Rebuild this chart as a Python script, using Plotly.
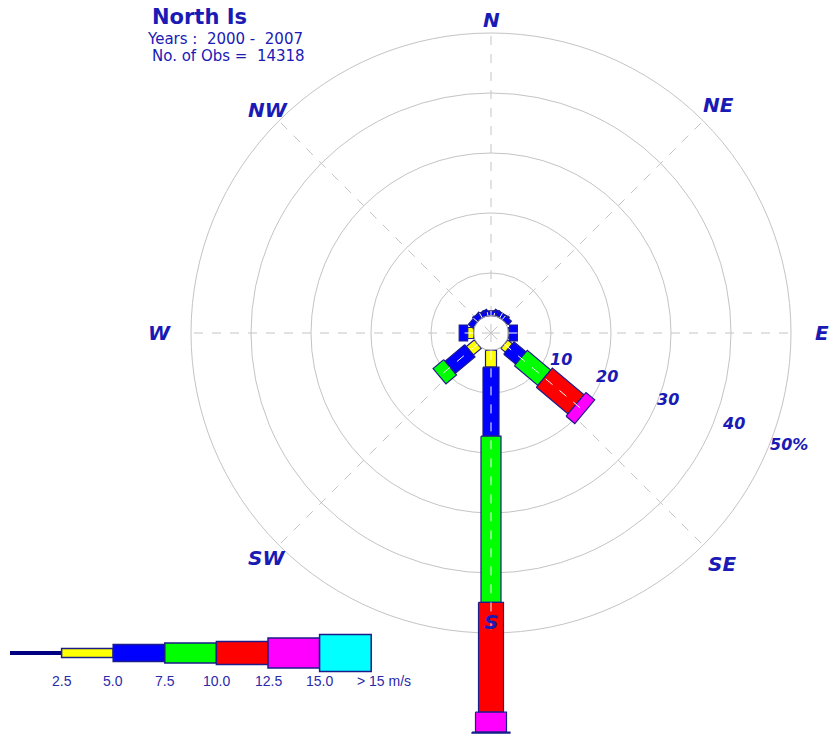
import numpy as np
import plotly.graph_objects as go

# ---- wind rose data: North Is, 2000-2007 ----
dir_deg = [0, 10, 30, 40, 90, 130, 180, 230, 270, 310, 330, 350]   # bearing the wind blows from
f_calm_25 = [0.0, 0.0, 0.0, 0.0, 0.0, 0.0, 0.0, 0.0, 0.0, 0.0, 0.0, 0.0]
f_25_50 = [0.2, 0.0, 0.2, 0.0, 0.2, 1.0, 2.8, 1.7, 1.0, 0.0, 0.0, 0.0]
f_50_75 = [0.6, 0.5, 0.7, 0.8, 1.3, 2.6, 11.5, 4.3, 1.4, 0.9, 0.9, 0.6]
f_75_100 = [0.0, 0.0, 0.0, 0.0, 0.0, 5.1, 27.7, 2.3, 0.0, 0.0, 0.0, 0.0]
f_100_125 = [0.0, 0.0, 0.0, 0.0, 0.0, 6.9, 18.3, 0.0, 0.0, 0.0, 0.0, 0.0]
f_125_150 = [0.0, 0.0, 0.0, 0.0, 0.0, 1.9, 3.3, 0.0, 0.0, 0.0, 0.0, 0.0]
f_gt_150 = [0.0, 0.0, 0.0, 0.0, 0.0, 0.0, 0.2, 0.0, 0.0, 0.0, 0.0, 0.0]

class_colors = ["#000080", "#ffff00", "#0000ff", "#00ff00", "#ff0000", "#ff00ff", "#00ffff"]
class_width_px = [3, 11, 16, 20, 25, 31, 38]
legend_ticks = ["2.5", "5.0", "7.5", "10.0", "12.5", "15.0", "> 15 m/s"]

ring_values = [10, 20, 30, 40, 50]
ring_labels = ["10", "20", "30", "40", "50%"]
compass = ["N", "NE", "E", "SE", "S", "SW", "W", "NW"]

title = "North Is"
years_text = "Years :&nbsp; 2000 -&nbsp; 2007"
obs_text = "No. of Obs =&nbsp; 14318"

# ---- geometry: 6 px per percent, rose centre at pixel (491, 333) ----
W, H = 832, 740
PX = 6.0
CX, CY = 491, 333
xr = [-CX / PX, (W - CX) / PX]
yr = [-(H - CY) / PX, CY / PX]
r_calm = 2.9
navy = "#1c1c8a"
txt_blue = "#1a1ab4"
grid = "#c4c4c4"


def unit(b):
    a = np.deg2rad(b)
    return np.sin(a), np.cos(a)


fig = go.Figure()
shapes = []
annotations = []

# rings
for r in ring_values:
    shapes.append(dict(type="circle", xref="x", yref="y", x0=-r, y0=-r, x1=r, y1=r,
                       line=dict(color=grid, width=1), layer="below"))
# dashed compass spokes
for k in range(8):
    ux, uy = unit(45 * k)
    rmax = 50.5
    shapes.append(dict(type="line", xref="x", yref="y", x0=0, y0=0, x1=ux * rmax, y1=uy * rmax,
                       line=dict(color=grid, width=1, dash="dash"), layer="below"))

# bars
classes = [f_calm_25, f_25_50, f_50_75, f_75_100, f_100_125, f_125_150, f_gt_150]
bar_ends = []
for i, b in enumerate(dir_deg):
    ux, uy = unit(b)
    vx, vy = np.cos(np.deg2rad(b)), -np.sin(np.deg2rad(b))
    r0 = r_calm
    for c, vals in enumerate(classes):
        v = vals[i]
        if v <= 0:
            continue
        r1 = r0 + v
        hw = class_width_px[c] / PX / 2
        xs = [r0 * ux + hw * vx, r1 * ux + hw * vx, r1 * ux - hw * vx, r0 * ux - hw * vx, r0 * ux + hw * vx]
        ys = [r0 * uy + hw * vy, r1 * uy + hw * vy, r1 * uy - hw * vy, r0 * uy - hw * vy, r0 * uy + hw * vy]
        fig.add_trace(go.Scatter(x=xs, y=ys, mode="lines", fill="toself",
                                 fillcolor=class_colors[c], line=dict(color=navy, width=1.2),
                                 hoverinfo="skip", showlegend=False))
        r0 = r1
    bar_ends.append((b, r0))

# white dashed centre lines through the bars
for b, rend in bar_ends:
    if rend - r_calm < 0.5:
        continue
    ux, uy = unit(b)
    re = min(rend, 50)
    fig.add_trace(go.Scatter(x=[r_calm * ux, re * ux], y=[r_calm * uy, re * uy], mode="lines",
                             line=dict(color="white", width=1, dash="dash"),
                             hoverinfo="skip", showlegend=False))

# calm circle
shapes.append(dict(type="circle", xref="x", yref="y", x0=-r_calm, y0=-r_calm, x1=r_calm, y1=r_calm,
                   line=dict(color="#a0a0a0", width=1), layer="above"))

# compass labels
compass_r = [52.2, 53.7, 55.2, 54.4, 48.2, 53.0, 55.2, 52.5]
for k, (lab, rr) in enumerate(zip(compass, compass_r)):
    ux, uy = unit(45 * k)
    annotations.append(dict(x=ux * rr, y=uy * rr, xref="x", yref="y", text="<b><i>" + lab + "</i></b>",
                            showarrow=False, font=dict(family="DejaVu Sans", size=20, color=txt_blue)))

# ring labels
ring_label_r = [12.5, 20.7, 31.5, 43.1, 53.0]
for lab, rr in zip(ring_labels, ring_label_r):
    ux, uy = unit(110.5)
    annotations.append(dict(x=ux * rr, y=uy * rr, xref="x", yref="y", text="<b><i>" + lab + "</i></b>",
                            showarrow=False, font=dict(family="DejaVu Sans", size=16, color=txt_blue)))

# header text
annotations.append(dict(x=150 / W, y=1 - 17 / H, xref="paper", yref="paper", xanchor="left", yanchor="middle",
                        text="<b>" + title + "</b>", showarrow=False,
                        font=dict(family="DejaVu Sans", size=21, color=txt_blue)))
annotations.append(dict(x=145 / W, y=1 - 39 / H, xref="paper", yref="paper", xanchor="left", yanchor="middle",
                        text=years_text, showarrow=False,
                        font=dict(family="DejaVu Sans", size=15, color=txt_blue)))
annotations.append(dict(x=150 / W, y=1 - 56 / H, xref="paper", yref="paper", xanchor="left", yanchor="middle",
                        text=obs_text, showarrow=False,
                        font=dict(family="DejaVu Sans", size=15, color=txt_blue)))

# speed legend
lx0, lstep, lyc = 10, 51.6, 653
for c in range(7):
    x0 = lx0 + c * lstep
    x1 = x0 + lstep
    h = [4, 9, 17, 20, 23, 30, 37][c]
    if c == 0:
        shapes.append(dict(type="rect", xref="paper", yref="paper", x0=x0 / W, x1=x1 / W,
                           y0=1 - (lyc + h / 2) / H, y1=1 - (lyc - h / 2) / H,
                           fillcolor=class_colors[c], line=dict(width=0)))
    else:
        shapes.append(dict(type="rect", xref="paper", yref="paper", x0=x0 / W, x1=x1 / W,
                           y0=1 - (lyc + h / 2) / H, y1=1 - (lyc - h / 2) / H,
                           fillcolor=class_colors[c], line=dict(color=navy, width=1.5)))
for c, lab in enumerate(legend_ticks):
    xb = lx0 + (c + 1) * lstep
    anchor = "center" if c < 6 else "left"
    xpos = xb if c < 6 else xb - 16
    annotations.append(dict(x=xpos / W, y=1 - 681 / H, xref="paper", yref="paper", xanchor=anchor,
                            yanchor="middle", text=lab, showarrow=False,
                            font=dict(family="Liberation Sans", size=14, color="#2a2aa8")))

fig.update_layout(
    width=W, height=H, margin=dict(l=0, r=0, t=0, b=0),
    paper_bgcolor="white", plot_bgcolor="white",
    xaxis=dict(range=xr, visible=False, fixedrange=True),
    yaxis=dict(range=yr, visible=False, fixedrange=True),
    shapes=shapes, annotations=annotations, showlegend=False,
)
fig.write_html("out.html", config={"displayModeBar": False})
